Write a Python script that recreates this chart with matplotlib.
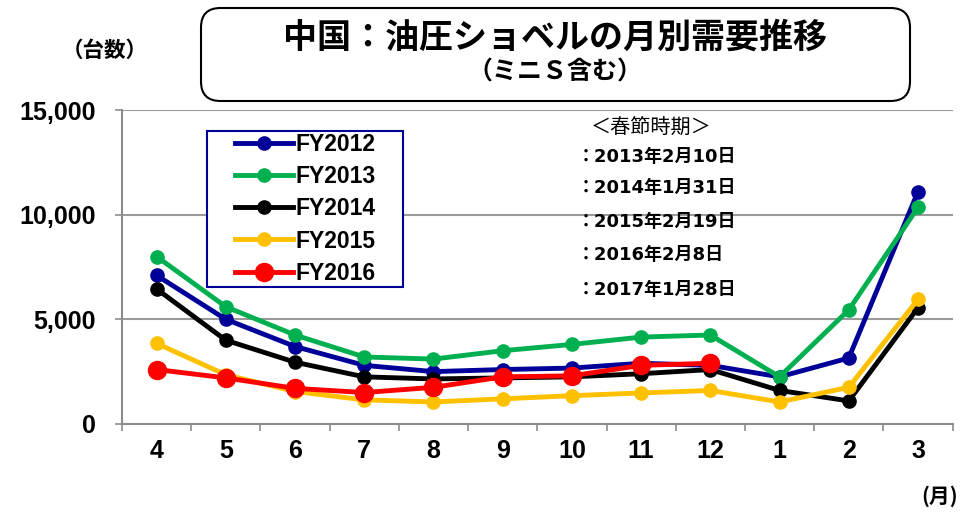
import numpy as np
import matplotlib
matplotlib.use("Agg")
import matplotlib.pyplot as plt
from matplotlib.patches import FancyBboxPatch, Rectangle

plt.rcParams['font.family'] = ['Liberation Sans', 'Noto Sans CJK JP']

# データ
meses = ["4", "5", "6", "7", "8", "9", "10", "11", "12", "1", "2", "3"]
fy2012 = [7100, 5000, 3700, 2800, 2500, 2600, 2670, 2900, 2800, 2250, 3150, 11100]
fy2013 = [8000, 5600, 4250, 3200, 3100, 3500, 3800, 4150, 4250, 2250, 5450, 10350]
fy2014 = [6450, 4000, 2950, 2250, 2150, 2200, 2250, 2400, 2600, 1600, 1100, 5550]
fy2015 = [3850, 2350, 1550, 1150, 1050, 1200, 1350, 1480, 1600, 1050, 1750, 5950]
fy2016 = [2600, 2200, 1700, 1500, 1750, 2250, 2300, 2800, 2900]
y_ticks = [0, 5000, 10000, 15000]
shunsetsu = ["：2013年2月10日", "：2014年1月31日", "：2015年2月19日",
             "：2016年2月8日", "：2017年1月28日"]

fig = plt.figure(figsize=(9.76, 5.12), dpi=100)
ax = fig.add_axes([0.125, 0.172, 0.851, 0.613])

x = np.arange(len(meses))
series = [
    ("FY2012", fy2012, "#000099", 9.5),
    ("FY2013", fy2013, "#00B050", 9.5),
    ("FY2014", fy2014, "#000000", 9.5),
    ("FY2015", fy2015, "#FFC000", 9.5),
    ("FY2016", fy2016, "#FF0000", 13),
]
for nombre, vals, color, ms in series:
    ax.plot(x[:len(vals)], vals, color=color, linewidth=3.5, marker="o",
            markersize=ms, label=nombre, zorder=3)

ax.set_xlim(-0.5, 11.5)
ax.set_ylim(0, 15000)
ax.set_yticks(y_ticks)
ax.set_yticklabels([f"{v:,}" for v in y_ticks], fontsize=18, fontweight="bold")
ax.set_xticks(x)
ax.set_xticklabels(meses, fontsize=18, fontweight="bold")
ax.set_xticks(np.arange(-0.5, 12, 1), minor=True)
ax.tick_params(axis="x", which="major", length=0, pad=11)
ax.tick_params(axis="x", which="minor", length=5, color="#8c8c8c", width=1.2)
ax.tick_params(axis="y", length=5, color="#8c8c8c", width=1.2, pad=14)
ax.grid(axis="y", color="#9a9a9a", linewidth=1.5)
ax.set_axisbelow(True)
for s in ["top", "right"]:
    ax.spines[s].set_visible(False)
for s in ["left", "bottom"]:
    ax.spines[s].set_color("#8c8c8c")
    ax.spines[s].set_linewidth(1.5)

# 凡例（枠は別に描く）
leg = ax.legend(loc="upper left", bbox_to_anchor=(235 / 976, 1 - 133 / 512),
                bbox_transform=fig.transFigure,
                prop={"weight": "bold", "size": 16.5}, frameon=False,
                borderpad=0, labelspacing=0.4, handlelength=2.55,
                handletextpad=0.1, borderaxespad=0)
leg.set_zorder(6)
marco = Rectangle((207 / 976, 1 - 287 / 512), 196 / 976, 156 / 512,
                  transform=fig.transFigure, facecolor="white",
                  edgecolor="#000099", linewidth=1.5, zorder=5, clip_on=False)
ax.add_artist(marco)

# 春節
jp = ["Noto Sans CJK JP", "DejaVu Sans"]
dj = ["DejaVu Sans", "Noto Sans CJK JP"]
fig.text(0.667, 0.752, "＜春節時期＞", fontsize=14.5, family=jp, ha="center", va="center")
ys = [0.693, 0.633, 0.566, 0.502, 0.434]
for t, yy in zip(shunsetsu, ys):
    fig.text(0.591, yy, t, fontsize=13, family=dj, fontweight="bold", va="center")

# タイトル枠
box = FancyBboxPatch((201 / 976, 1 - 101 / 512), 709 / 976, 93 / 512,
                     boxstyle="round,pad=0,rounding_size=0.02",
                     transform=fig.transFigure, facecolor="white", edgecolor="black",
                     linewidth=1.5, mutation_aspect=1.9)
fig.patches.append(box)
fig.text(0.569, 0.928, "中国：油圧ショベルの月別需要推移", fontsize=24.5, family=jp,
         fontweight="bold", ha="center", va="center")
fig.text(0.569, 0.858, "（ミニＳ含む）", fontsize=18, family=jp,
         fontweight="bold", ha="center", va="center")

fig.text(0.107, 0.902, "（台数）", fontsize=15.5, family=jp, fontweight="bold",
         ha="center", va="center")
fig.text(0.963, 0.03, "(月)", fontsize=15, family=jp, fontweight="bold",
         ha="center", va="center")

fig.savefig("out.png", dpi=100)
